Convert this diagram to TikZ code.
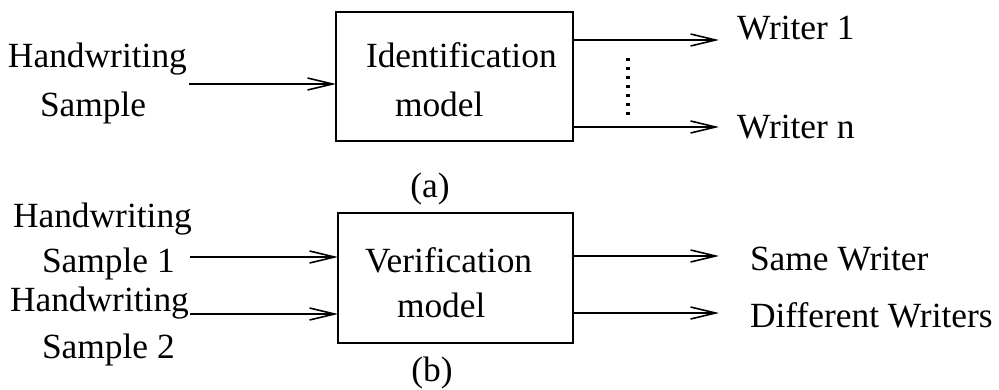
\documentclass[tikz,border=0pt]{standalone}
\usepackage{fontspec}
\setmainfont{Liberation Serif}
\usetikzlibrary{arrows.meta}
\begin{document}
\begin{tikzpicture}[x=1pt,y=-1pt,
  every node/.style={font=\fontsize{35.4}{42}\selectfont, inner sep=0pt, outer sep=0pt},
  lbl/.style={anchor=base west},
  box/.style={draw, line width=2pt},
  arr/.style={line width=2pt, -{Straight Barb[length=25pt,width=12pt,line width=1.6pt]}},
  dots/.style={line width=4pt, dash pattern=on 3pt off 6pt}]
\useasboundingbox (0,0) rectangle (999,389);
% (a) identification
\node[box, minimum width=237pt, minimum height=129pt] (idbox) at (454.5,76.5) {};
\node[lbl] (id1) at (366,67) {Identification};
\node[lbl] (id2) at (395,116) {model};
\node[lbl] (hw) at (8,67) {Handwriting};
\node[lbl] (sa) at (40,116) {Sample};
\coordinate (a1) at (189,84);
\draw[arr] (a1) -- (idbox.west |- a1);
\coordinate (o1) at (719,40);
\coordinate (on) at (719,127);
\draw[arr] (idbox.east |- o1) -- (o1);
\draw[arr] (idbox.east |- on) -- (on);
\node[lbl] (w1) at (737,39) {Writer 1};
\node[lbl] (wn) at (737,138) {Writer n};
\coordinate (d1) at (628,58);
\coordinate (d2) at (628,118);
\draw[dots] (d1) -- (d2);
\node[anchor=base] (la) at (430,197) {(a)};
% (b) verification
\node[box, minimum width=235pt, minimum height=130pt] (vbox) at (455.5,278) {};
\node[lbl] (v1) at (365,272) {Verification};
\node[lbl] (v2) at (397,317) {model};
\node[lbl] (hw1) at (13,227) {Handwriting};
\node[lbl] (s1) at (42,272) {Sample 1};
\node[lbl] (hw2) at (10,311) {Handwriting};
\node[lbl] (s2) at (42,358) {Sample 2};
\coordinate (b1) at (190,257);
\coordinate (b2) at (190,314);
\draw[arr] (b1) -- (vbox.west |- b1);
\draw[arr] (b2) -- (vbox.west |- b2);
\coordinate (p1) at (719,256);
\coordinate (p2) at (719,313);
\draw[arr] (vbox.east |- p1) -- (p1);
\draw[arr] (vbox.east |- p2) -- (p2);
\node[lbl] (sw) at (750,270) {Same Writer};
\node[lbl] (dw) at (750,327) {Different Writers};
\node[anchor=base] (lb) at (432,381) {(b)};
\end{tikzpicture}
\end{document}
